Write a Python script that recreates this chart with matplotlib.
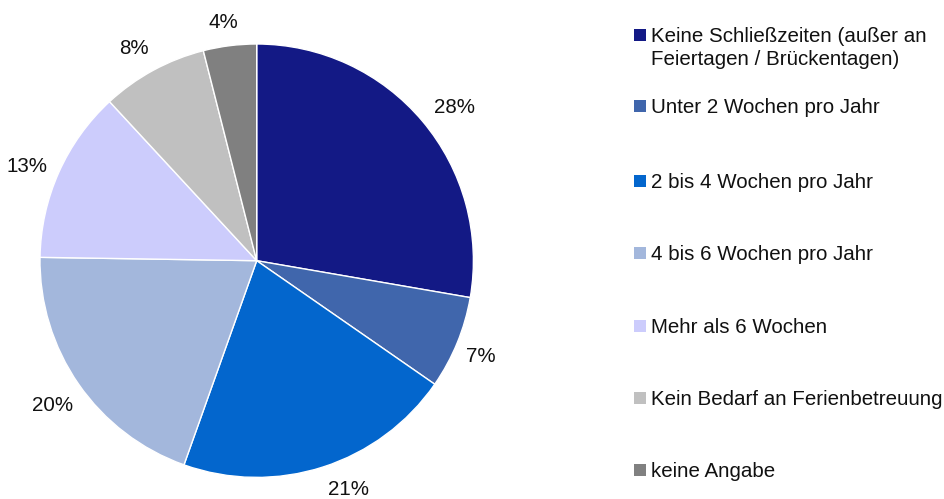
import matplotlib
matplotlib.use("Agg")
import matplotlib.pyplot as plt
from matplotlib.patches import Rectangle

categories = [
    "Keine Schließzeiten (außer an\nFeiertagen / Brückentagen)",
    "Unter 2 Wochen pro Jahr",
    "2 bis 4 Wochen pro Jahr",
    "4 bis 6 Wochen pro Jahr",
    "Mehr als 6 Wochen",
    "Kein Bedarf an Ferienbetreuung",
    "keine Angabe",
]
shares = [28, 7, 21, 20, 13, 8, 4]
colors = ["#131985", "#4066AC", "#0366CD", "#A3B7DC", "#CCCCFC", "#C0C0C0", "#808080"]

# percent label centres, in units of the pie radius
label_xy = [
    (0.915, 0.709),
    (1.035, -0.440),
    (0.425, -1.058),
    (-0.943, -0.666),
    (-1.058, 0.434),
    (-0.566, 0.980),
    (-0.155, 1.098),
]

W, H = 944, 499
FS = 14.8
TXT = "#111111"
plt.rcParams["font.family"] = ["Liberation Sans", "DejaVu Sans"]

fig = plt.figure(figsize=(W / 100, H / 100), dpi=100)

# pie: centre (257, 261) px from top-left, radius ~217 px
cx, cy, r = 256.7, 260.7, 216.7
ax = fig.add_axes([(cx - r) / W, (H - cy - r) / H, 2 * r / W, 2 * r / H])
wedges, _, pct_texts = ax.pie(
    shares,
    colors=colors,
    startangle=90,
    counterclock=False,
    radius=1.0,
    autopct=lambda p: f"{round(p)}%",
    pctdistance=1.14,
    wedgeprops=dict(edgecolor="white", linewidth=1.0),
    textprops=dict(fontsize=FS, color=TXT),
)
for t, xy in zip(pct_texts, label_xy):
    t.set_position(xy)
    t.set_clip_on(False)
ax.set_xlim(-1, 1)
ax.set_ylim(-1, 1)
ax.set_aspect("equal")
ax.axis("off")

# legend drawn by hand so the marker sits on the first text line
legend_y = [35, 106, 181, 253, 326, 398, 470]
sq = 11.5
line_step = 23
for wedge, label, y in zip(wedges, categories, legend_y):
    fig.patches.append(
        Rectangle(
            (634 / W, (H - y - sq / 2) / H),
            sq / W,
            sq / H,
            transform=fig.transFigure,
            facecolor=wedge.get_facecolor(),
            edgecolor="none",
        )
    )
    for i, line in enumerate(label.split("\n")):
        fig.text(
            651 / W,
            (H - y - 7.4 - i * line_step) / H,
            line,
            fontsize=FS,
            color=TXT,
            ha="left",
            va="baseline",
        )

fig.savefig("out.png", dpi=100, facecolor="white")
